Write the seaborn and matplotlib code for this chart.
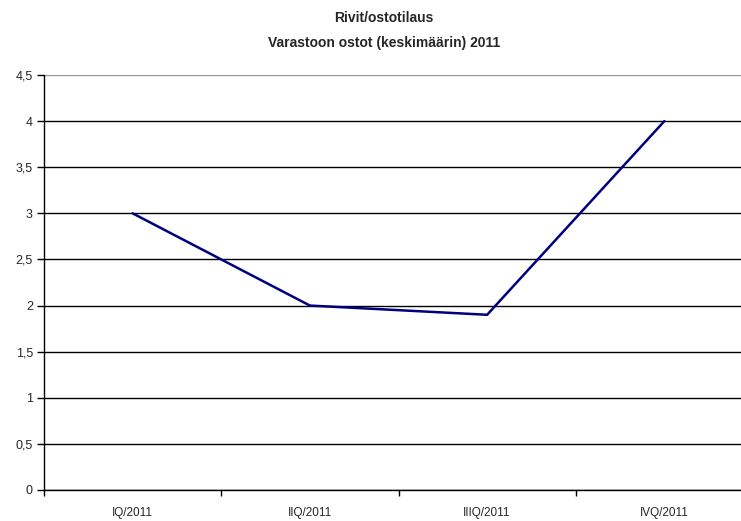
import matplotlib
matplotlib.use('Agg')
import matplotlib.pyplot as plt
import seaborn as sns
from matplotlib.ticker import FuncFormatter, FixedLocator

# data
quarters = ['IQ/2011', 'IIQ/2011', 'IIIQ/2011', 'IVQ/2011']
rows_per_order = [3.0, 2.0, 1.9, 4.0]
title_lines = ['Rivit/ostotilaus', 'Varastoon ostot (keskimäärin) 2011']

sns.set_style('white')
plt.rcParams['font.family'] = ['Liberation Sans', 'DejaVu Sans']

fig = plt.figure(figsize=(7.41, 5.21), dpi=100)
ax = fig.add_axes([44 / 741, 31 / 521, 709 / 741, 415 / 521])

sns.lineplot(x=quarters, y=rows_per_order, sort=False, color='#000080', linewidth=1.8, ax=ax)

ax.set_xlim(-0.5, 3.5)
ax.set_ylim(0, 4.5)
ax.set_yticks([i * 0.5 for i in range(10)])
ax.yaxis.set_major_formatter(FuncFormatter(lambda v, p: ('%g' % v).replace('.', ',')))
ax.grid(axis='y', color='black', linewidth=1)
ax.set_axisbelow(True)
# top edge of the plot area is a grey border in the original
ax.get_ygridlines()[-1].set_color('#999999')

# ticks between categories, labels centred under them
ax.xaxis.set_minor_locator(FixedLocator([-0.5, 0.5, 1.5, 2.5, 3.5]))
ax.tick_params(axis='x', which='major', length=0, pad=12, labelsize=8.5)
ax.tick_params(axis='x', which='minor', length=4, width=1, color='black', direction='out', bottom=True)
ax.tick_params(axis='y', length=5, width=1, color='black', direction='out', left=True, labelsize=9, pad=3)

for s in ['top', 'right']:
    ax.spines[s].set_visible(False)
for s in ['left', 'bottom']:
    ax.spines[s].set_color('black')
    ax.spines[s].set_linewidth(1)
ax.set_xlabel('')
ax.set_ylabel('')

fig.text(384 / 741, 1 - 18 / 521, title_lines[0], ha='center', va='center', fontsize=10, fontweight='bold')
fig.text(384 / 741, 1 - 43 / 521, title_lines[1], ha='center', va='center', fontsize=10, fontweight='bold')

fig.savefig('out.png', dpi=100)
